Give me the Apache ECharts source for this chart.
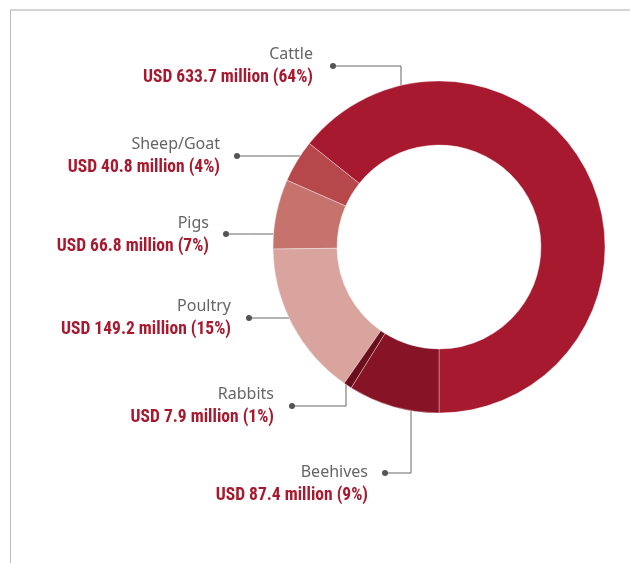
<!DOCTYPE html>
<html>
<head>
<meta charset="utf-8">
<script src="https://cdn.jsdelivr.net/npm/echarts@6/dist/echarts.min.js"></script>
<style>
  html, body { margin: 0; padding: 0; background: #fff; }
  #chart { width: 630px; height: 563px; }
</style>
</head>
<body>
<div id="chart"></div>
<script>
// 数据
var categories = ['Cattle', 'Sheep/Goat', 'Pigs', 'Poultry', 'Rabbits', 'Beehives']
var valuesUsd = [633.7, 40.8, 66.8, 149.2, 7.9, 87.4]
var sharePct = [64, 4, 7, 15, 1, 9]
var colors = ['#A6192F', '#B6484B', '#C6736E', '#D9A49E', '#6C0F1C', '#871426']

// 环形图几何
var cx = 439
var cy = 247
var rOut = 166
var rIn = 102

// 标签位置：文字右边缘、中心 y、圆点、折线方向
var labelPos = [
  { x: 313, y: 67, dot: [333, 66], bendX: 401, dir: 'up' },
  { x: 220, y: 157, dot: [237, 156], dir: 'h' },
  { x: 209, y: 236, dot: [226, 234], dir: 'h' },
  { x: 231, y: 319, dot: [249, 318], dir: 'h' },
  { x: 274, y: 407, dot: [292, 406], bendX: 346, dir: 'down' },
  { x: 368, y: 485, dot: [385, 473], bendX: 411, dir: 'down' }
]

function linePoints (p) {
  var d = p.dot
  if (p.dir === 'h') {
    var dy = d[1] - cy
    var ex = cx - Math.sqrt(rOut * rOut - dy * dy)
    return [d, [(d[0] + ex) / 2, d[1]], [ex, d[1]]]
  }
  var dx = p.bendX - cx
  var h = Math.sqrt(rOut * rOut - dx * dx)
  var ey = p.dir === 'up' ? cy - h : cy + h
  return [d, [p.bendX, d[1]], [p.bendX, ey]]
}

var pieData = categories.map(function (name, i) {
  return { name: name, value: valuesUsd[i], itemStyle: { color: colors[i] } }
})

var myChart = echarts.init(document.getElementById('chart'))

var dots = labelPos.map(function (p) {
  return {
    type: 'circle',
    shape: { cx: p.dot[0], cy: p.dot[1], r: 3 },
    style: { fill: '#555' },
    z: 10
  }
})

myChart.setOption({
  animation: false,
  graphic: [
    { type: 'line', shape: { x1: 10, y1: 10, x2: 630, y2: 10 }, style: { stroke: '#d4d4d4', lineWidth: 2 } },
    { type: 'line', shape: { x1: 10.5, y1: 10, x2: 10.5, y2: 563 }, style: { stroke: '#bbbbbb', lineWidth: 1 } }
  ].concat(dots),
  series: [
    {
      type: 'pie',
      center: [cx, cy],
      radius: [rIn, rOut],
      startAngle: 270,
      clockwise: false,
      avoidLabelOverlap: false,
      itemStyle: {
        borderColor: 'rgba(255,255,255,0.35)',
        borderWidth: 1
      },
      label: {
        show: true,
        position: 'outside',
        formatter: function (params) {
          var i = params.dataIndex
          return '{n|' + categories[i] + '}\n{v|USD ' + valuesUsd[i] + ' million (' + sharePct[i] + '%)}'
        },
        rich: {
          n: {
            fontFamily: 'Noto Sans',
            fontSize: 16,
            color: '#666',
            align: 'right',
            lineHeight: 21
          },
          v: {
            fontFamily: 'Roboto Condensed',
            fontSize: 17.5,
            fontWeight: 'bold',
            color: '#A6192F',
            align: 'right',
            lineHeight: 25
          }
        }
      },
      labelLine: {
        show: true,
        lineStyle: { color: '#666', width: 1 }
      },
      labelLayout: function (params) {
        var p = labelPos[params.dataIndex]
        return {
          x: p.x,
          y: p.y,
          align: 'right',
          verticalAlign: 'middle',
          labelLinePoints: linePoints(p)
        }
      },
      emphasis: { disabled: true },
      data: pieData
    }
  ]
})
</script>
</body>
</html>
